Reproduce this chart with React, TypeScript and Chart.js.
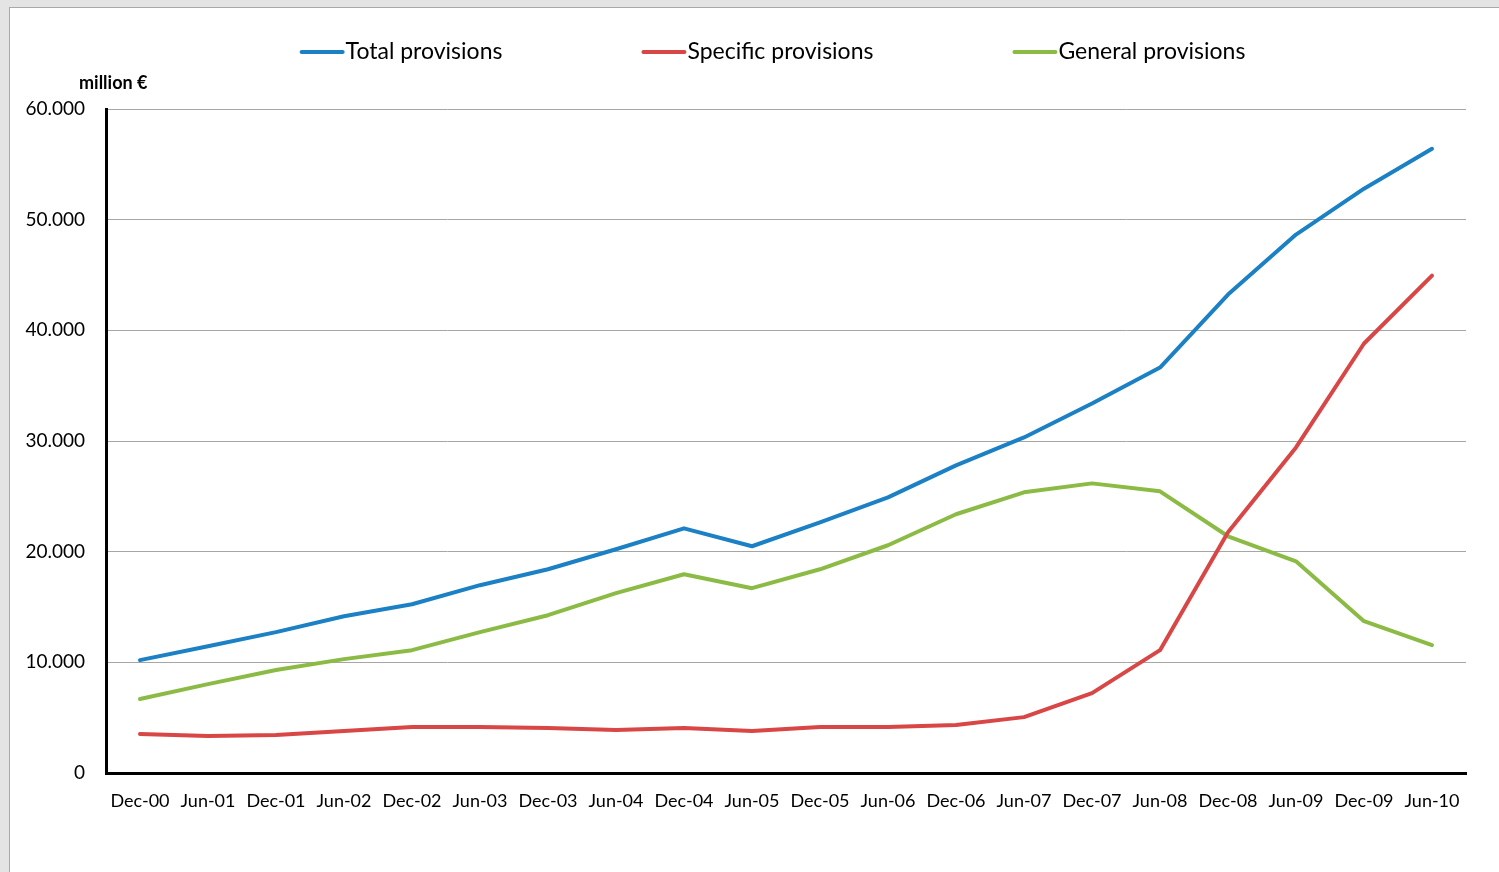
import React, { useEffect, useRef } from "react";
import { Chart, registerables } from "chart.js";

Chart.register(...registerables);

const categories = [
  "Dec-00", "Jun-01", "Dec-01", "Jun-02", "Dec-02", "Jun-03", "Dec-03", "Jun-04", "Dec-04", "Jun-05",
  "Dec-05", "Jun-06", "Dec-06", "Jun-07", "Dec-07", "Jun-08", "Dec-08", "Jun-09", "Dec-09", "Jun-10",
];

const totalProvisions = [
  10200, 11460, 12730, 14170, 15250, 16970, 18410, 20220, 22110, 20490,
  22650, 24910, 27800, 30320, 33390, 36640, 43230, 48650, 52800, 56410,
];

const specificProvisions = [
  3520, 3340, 3430, 3790, 4150, 4150, 4060, 3880, 4060, 3790,
  4150, 4150, 4330, 5050, 7220, 11100, 21750, 29420, 38810, 44950,
];

const generalProvisions = [
  6680, 8030, 9300, 10290, 11100, 12730, 14260, 16250, 17960, 16700,
  18410, 20580, 23380, 25360, 26170, 25450, 21390, 19130, 13720, 11550,
];

const seriesNames = ["Total provisions", "Specific provisions", "General provisions"];
const seriesColors = ["#1b80c4", "#d94646", "#8bbb45"];
const yUnit = "million €";

const FONT = "Lato, 'Open Sans', sans-serif";

function fmt(v: number): string {
  return String(Math.round(v)).replace(/\B(?=(\d{3})+(?!\d))/g, ".");
}

const overlayPlugin = {
  id: "overlay",
  afterDraw(chart: any) {
    const ctx = chart.ctx as CanvasRenderingContext2D;
    const area = chart.chartArea;
    ctx.save();
    // unit label
    ctx.fillStyle = "#000";
    ctx.font = `bold 18px ${FONT}`;
    ctx.textBaseline = "middle";
    ctx.textAlign = "left";
    ctx.fillText(yUnit, 69, 75);

    // legend
    ctx.font = `23px ${FONT}`;
    const lineW = 42;
    const gapText = 3;
    const gapItems = 140;
    const items = chart.data.datasets.map((d: any) => ({
      label: d.label,
      color: d.borderColor,
      w: lineW + gapText + ctx.measureText(d.label).width,
    }));
    const total = items.reduce((s: number, it: any) => s + it.w, 0) + gapItems * (items.length - 1);
    const center = (area.left + area.right) / 2 - 13;
    let x = center - total / 2;
    const y = 44;
    for (const it of items) {
      ctx.strokeStyle = it.color;
      ctx.lineWidth = 4;
      ctx.lineCap = "round";
      ctx.beginPath();
      ctx.moveTo(x + 1, y);
      ctx.lineTo(x + lineW, y);
      ctx.stroke();
      ctx.fillStyle = "#000";
      ctx.fillText(it.label, x + lineW + gapText, y);
      x += it.w + gapItems;
    }
    ctx.restore();
  },
};

export default function App() {
  const ref = useRef<HTMLCanvasElement | null>(null);

  useEffect(() => {
    document.body.style.margin = "0";
    document.body.style.background = "#e4e4e4";
    const canvas = ref.current;
    if (!canvas) return;
    const datasets = [totalProvisions, specificProvisions, generalProvisions].map((data, i) => ({
      label: seriesNames[i],
      data,
      borderColor: seriesColors[i],
      backgroundColor: seriesColors[i],
      borderWidth: 4,
      pointRadius: 0,
      tension: 0,
      fill: false,
      borderCapStyle: "round" as const,
      borderJoinStyle: "round" as const,
    }));
    const chart = new Chart(canvas, {
      type: "line",
      data: { labels: categories, datasets },
      options: {
        responsive: false,
        animation: false,
        devicePixelRatio: 1,
        layout: { padding: { top: 101, right: 34, left: 0, bottom: 0 } },
        plugins: {
          legend: { display: false },
          tooltip: { enabled: false },
        },
        scales: {
          x: {
            type: "category",
            offset: true,
            grid: { display: false, drawTicks: false },
            border: { display: true, color: "#000", width: 3 },
            ticks: {
              color: "#000",
              font: { family: FONT, size: 18 },
              padding: 17,
              maxRotation: 0,
              autoSkip: false,
            },
            afterFit(s: any) {
              s.height = 99;
            },
          },
          y: {
            min: 0,
            max: 60000,
            grid: {
              color: (c: any) => (c.tick && c.tick.value === 0 ? "rgba(0,0,0,0)" : "#a6a6a6"),
              lineWidth: 1,
              drawTicks: false,
            },
            border: { display: true, color: "#000", width: 3 },
            ticks: {
              stepSize: 10000,
              color: "#000",
              font: { family: FONT, size: 19 },
              padding: 21,
              callback: (v: any) => fmt(Number(v)),
            },
            afterFit(s: any) {
              s.width = 96;
            },
          },
        },
      },
      plugins: [overlayPlugin],
    });
    return () => chart.destroy();
  }, []);

  return (
    <div
      style={{
        position: "absolute",
        left: 9,
        top: 7,
        width: 1500,
        height: 880,
        border: "1px solid #a9a9a9",
        background: "#fff",
      }}
    >
      <canvas ref={ref} width={1490} height={864} style={{ display: "block" }} />
    </div>
  );
}
